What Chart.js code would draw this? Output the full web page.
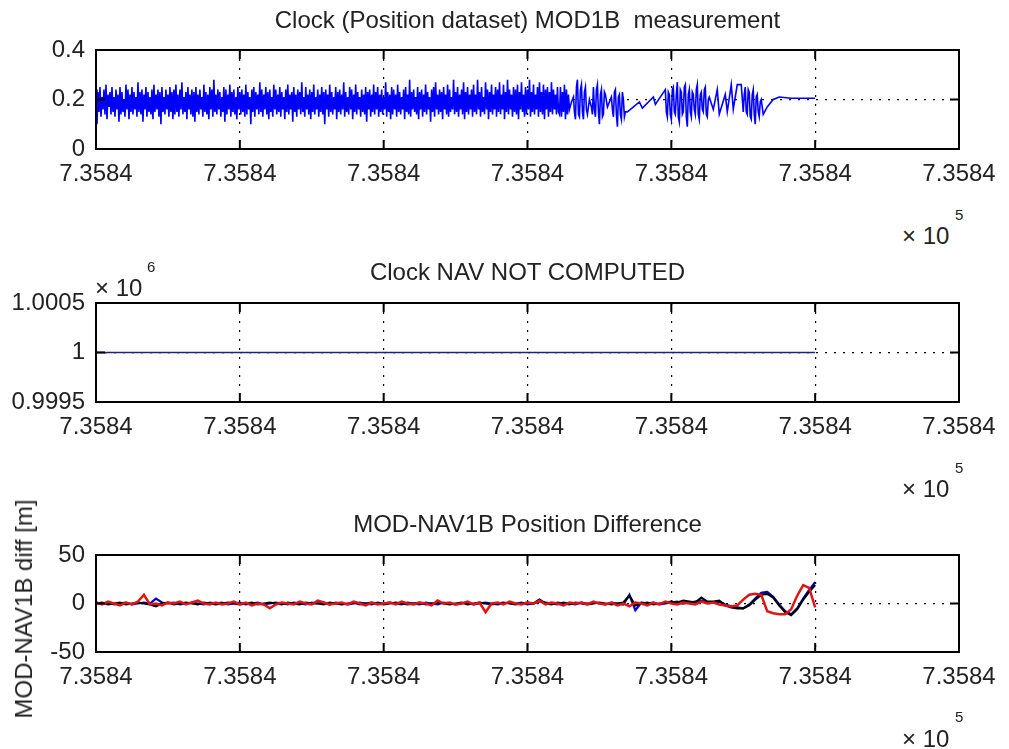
<!DOCTYPE html>
<html>
<head>
<meta charset="utf-8">
<script src="https://cdn.jsdelivr.net/npm/chart.js@4.4.1/dist/chart.umd.min.js"></script>
<style>
  html, body { margin: 0; padding: 0; background: #fff; }
  #fig { position: relative; width: 1009px; height: 749px; overflow: hidden;
         font-family: 'Liberation Sans', Arial, sans-serif; color: #222; }
  #fig canvas { position: absolute; left: 0; }
  .t { position: absolute; font-size: 24px; line-height: 24px; white-space: pre; }
  .sup { position: absolute; font-size: 15px; line-height: 15px; white-space: pre; }
  .ylab { position: absolute; left: 24px; top: 609px; font-size: 24px; line-height: 24px;
          white-space: nowrap; transform: translate(-50%, -50%) rotate(-90deg); }
</style>
</head>
<body>
<div id="fig">
  <canvas id="c1" width="1009" height="200" style="top:0px"></canvas>
  <canvas id="c2" width="1009" height="200" style="top:250px"></canvas>
  <canvas id="c3" width="1009" height="249" style="top:500px"></canvas>

  <div class="t" style="left:96px;width:863px;text-align:center;top:8px">Clock (Position dataset) MOD1B  measurement</div>
  <div class="t" style="left:902px;top:224px">× 10</div>
  <div class="sup" style="left:955px;top:207px">5</div>

  <div class="t" style="left:96px;width:863px;text-align:center;top:260px">Clock NAV NOT COMPUTED</div>
  <div class="t" style="left:95px;top:276px">× 10</div>
  <div class="sup" style="left:147px;top:259px">6</div>
  <div class="t" style="left:902px;top:477px">× 10</div>
  <div class="sup" style="left:955px;top:460px">5</div>

  <div class="t" style="left:96px;width:863px;text-align:center;top:512px">MOD-NAV1B Position Difference</div>
  <div class="ylab">MOD-NAV1B diff [m]</div>
  <div class="t" style="left:902px;top:727px">× 10</div>
  <div class="sup" style="left:955px;top:709px">5</div>
</div>

<script>
// Time base: datenum of the first epoch (days); sample times below are minutes after it.
const T0 = 735840;
const T_MAX = 4320;          // x range shown: 3 days
const T_STEP_TICK = 720;     // tick every half day

// ---- Clock (Position dataset) MOD1B measurement ----
const CLK_STEP = 5; // minutes between samples in the continuous part
const clkDense = [
  .24,.10,.23,.15,.25,.13,.21,.16,.24,.14,.26,.12,.22,.17,.23,.14,.25,.15,.21,.13,
  .24,.16,.22,.11,.25,.14,.23,.15,.20,.13,.26,.16,.24,.12,.22,.15,.25,.14,.23,.16,
  .21,.13,.27,.15,.23,.14,.24,.11,.22,.16,.25,.13,.23,.15,.21,.14,.24,.12,.26,.15,
  .22,.16,.24,.13,.23,.10,.25,.15,.21,.14,.24,.16,.22,.13,.25,.15,.23,.12,.24,.14,
  .26,.15,.22,.13,.24,.16,.27,.14,.21,.15,.23,.12,.25,.16,.22,.14,.24,.13,.23,.11,
  .25,.15,.22,.14,.24,.16,.21,.13,.26,.15,.23,.14,.22,.12,.25,.16,.24,.13,.28,.15,
  .22,.14,.24,.16,.23,.13,.21,.15,.25,.11,.24,.14,.22,.16,.26,.13,.23,.15,.24,.14,
  .21,.12,.25,.16,.23,.14,.24,.15,.22,.13,.26,.14,.23,.16,.21,.10,.24,.15,.25,.13,
  .23,.16,.22,.14,.27,.15,.24,.13,.22,.16,.25,.14,.23,.12,.24,.15,.21,.13,.26,.16,
  .24,.14,.22,.15,.25,.13,.23,.16,.21,.12,.24,.15,.26,.14,.22,.16,.23,.11,.25,.15,
  .22,.13,.24,.16,.23,.14,.27,.15,.21,.13,.25,.16,.22,.14,.24,.12,.23,.15,.26,.14,
  .21,.16,.24,.13,.22,.15,.25,.14,.23,.10,.24,.16,.22,.13,.26,.15,.23,.14,.21,.16,
  .25,.12,.23,.15,.24,.14,.22,.16,.27,.13,.23,.15,.21,.14,.25,.16,.24,.12,.22,.15,
  .26,.14,.23,.16,.21,.13,.24,.15,.22,.14,.25,.11,.23,.16,.24,.13,.22,.15,.26,.14,
  .23,.16,.25,.13,.22,.15,.24,.14,.21,.16,.27,.13,.23,.15,.22,.12,.25,.14,.24,.16,
  .22,.13,.26,.15,.23,.14,.21,.16,.24,.12,.25,.15,.22,.14,.28,.13,.23,.16,.24,.15,
  .21,.14,.25,.12,.23,.16,.24,.13,.22,.15,.26,.14,.23,.16,.21,.11,.24,.15,.25,.13,
  .27,.16,.22,.14,.24,.15,.23,.12,.25,.16,.22,.14,.26,.13,.24,.15,.21,.16,.28,.14,
  .23,.15,.25,.13,.22,.16,.24,.14,.27,.12,.23,.15,.25,.14,.22,.16,.24,.13,.26,.15,
  .22,.14,.28,.16,.23,.13,.25,.15,.21,.14,.27,.16,.24,.12,.23,.15,.26,.14,.22,.16,
  .25,.13,.24,.15,.27,.14,.22,.16,.26,.12,.23,.15,.28,.14,.24,.16,.22,.13,.25,.15,
  .24,.14,.26,.12,.23,.16,.27,.15,.22,.13,.25,.14,.24,.16,.28,.13,.23,.15,.26,.14,
  .22,.16,.25,.13,.27,.15,.23,.14,.26,.12,.24,.16,.25,.13,.23,.15,.27,.14,.24,.16,
  .22,.14,.25,.15
];
// After the continuous stretch the record becomes patchy: [minute, value]
const clkTail = [
  [2320,.14],[2325,.25],[2330,.13],[2335,.23],[2340,.15],[2345,.26],[2350,.12],[2355,.24],
  [2360,.14],[2365,.22],[2370,.16],[2380,.19],[2390,.21],
  [2395,.15],[2400,.12],[2405,.25],[2410,.28],[2415,.14],[2420,.13],[2425,.24],[2430,.26],
  [2435,.15],[2440,.12],[2445,.23],[2450,.25],[2455,.16],[2460,.14],[2470,.20],[2480,.17],
  [2485,.14],[2490,.25],[2495,.16],[2500,.13],[2505,.24],[2510,.26],[2515,.15],[2520,.10],
  [2525,.22],[2530,.24],[2535,.13],[2540,.14],[2545,.23],[2550,.22],[2560,.17],[2580,.21],
  [2585,.16],[2590,.13],[2595,.23],[2600,.24],[2605,.14],[2610,.09],[2615,.21],[2620,.22],
  [2625,.14],[2630,.12],[2635,.23],[2640,.20],[2645,.13],[2650,.15],
  [2660,.15],[2720,.19],[2735,.165],[2790,.21],[2800,.18],[2850,.24],
  [2855,.15],[2860,.13],[2865,.23],[2870,.22],[2875,.14],[2880,.12],[2885,.24],[2890,.25],
  [2895,.15],[2900,.14],[2905,.22],[2910,.27],[2915,.13],[2920,.11],[2925,.24],[2930,.23],
  [2935,.14],[2940,.15],[2945,.25],[2950,.26],[2955,.13],[2960,.09],[2965,.22],[2970,.24],
  [2975,.15],[2980,.13],[2985,.23],[2990,.22],[2995,.16],[3000,.14],[3005,.24],[3010,.26],
  [3015,.14],[3020,.12],[3025,.22],[3030,.23],[3035,.16],[3040,.15],[3045,.24],[3050,.25],
  [3055,.14],[3060,.13],[3065,.20],[3070,.21],
  [3090,.16],[3110,.24],[3120,.14],[3150,.22],[3160,.15],[3180,.26],[3190,.16],[3210,.26],
  [3230,.26],[3240,.15],
  [3245,.22],[3250,.25],[3255,.15],[3260,.14],[3265,.24],[3270,.23],[3275,.13],[3280,.12],
  [3285,.22],[3290,.24],[3295,.14],[3300,.10],[3305,.21],[3310,.22],[3315,.15],[3320,.13],
  [3325,.19],[3330,.20],
  [3340,.14],[3360,.17],[3390,.20],[3420,.21],[3480,.205],[3540,.205],[3600,.205]
];

// ---- Clock NAV (not computed: constant fill value) ----
const navT = [0, 1200, 2400, 3600];
const navV = [1000000, 1000000, 1000000, 1000000];

// ---- MOD-NAV1B position difference [m] ----
const POS_STEP = 30; // minutes between samples
const diffRed = [
  1,-1,2,0,-2,1,-1,2,9,-1,
  0,-2,1,0,2,-1,1,3,0,-1,
  1,-1,0,2,-1,1,-2,0,-1,-5,
  -1,1,0,-1,2,0,-1,3,1,-1,
  0,1,-1,2,0,-2,1,-1,0,1,
  -1,2,0,-1,1,0,-2,3,0,1,
  -1,0,2,-1,1,-9,0,1,-1,2,
  0,-1,1,0,3,-1,1,0,-2,1,
  0,1,-1,2,0,-1,1,-2,0,-3,
  1,0,-2,1,-1,2,0,-1,1,0,
  -1,2,0,
  1,-1,-2,-3,-2,4,9,10,9,-8,-10,-11,-11,-6,8,19,16,-4
];
const diffBlack = [
  0,1,-1,0,1,-1,0,1,0,-1,
  -3,0,1,-1,0,1,0,-1,1,0,
  -1,0,1,0,-1,0,1,-1,0,1,
  0,-1,1,0,-1,1,0,0,-1,1,
  0,-1,0,1,-1,0,1,0,-1,0,
  1,0,-1,0,1,-1,0,1,0,-1,
  0,1,-1,0,1,0,-1,0,1,0,
  -1,0,1,0,4,0,-1,1,0,-1,
  1,0,-1,0,1,0,-1,0,1,8,
  -2,0,1,-1,0,1,2,1,3,2,
  1,6,2,
  2,3,-2,-4,-5,-5,-2,4,9,10,6,-2,-9,-12,-6,4,12,19
];
const diffBlue = [
  1,0,1,-1,0,1,-1,0,1,0,
  5,1,0,1,-1,0,1,0,-1,1,
  0,1,-1,0,1,-1,0,1,-1,0,
  1,0,-1,1,0,-1,1,0,1,-1,
  1,0,-1,0,1,0,-1,1,0,1,
  0,-1,1,0,-1,1,0,-1,1,0,
  -1,0,1,-1,0,1,0,-1,0,1,
  0,1,-1,0,2,1,0,-1,1,0,
  -1,1,0,1,0,-1,1,0,-1,9,
  -7,1,0,1,-1,0,1,2,0,1,
  2,3,1,
  1,2,-1,-3,-4,-5,-1,5,11,12,7,-1,-8,-11,-5,5,14,22
];

// ---- helpers ----
const FONT = { family: "'Liberation Sans', Arial, sans-serif", size: 24 };
const TEXT = '#222';
const TICK_LEN = 9;

const toPts = (ts, vs) => vs.map((v, i) => ({ x: ts[i], y: v }));

const clkPts = clkDense.map((v, i) => ({ x: i * CLK_STEP, y: v }))
  .concat(clkTail.map(([t, v]) => ({ x: t, y: v })));
const posTimes = diffRed.map((_, i) => i * POS_STEP);

// Box around the plot area with inward tick marks on all four sides
const framePlugin = {
  id: 'frame',
  afterDraw(chart) {
    const { ctx, chartArea: a, scales: { x, y } } = chart;
    ctx.save();
    ctx.strokeStyle = '#000';
    ctx.lineWidth = 2;
    ctx.beginPath();
    x.ticks.forEach((t, i) => {
      const px = x.getPixelForTick(i);
      ctx.moveTo(px, a.bottom); ctx.lineTo(px, a.bottom - TICK_LEN);
      ctx.moveTo(px, a.top); ctx.lineTo(px, a.top + TICK_LEN);
    });
    y.ticks.forEach((t, i) => {
      const py = y.getPixelForTick(i);
      ctx.moveTo(a.left, py); ctx.lineTo(a.left + TICK_LEN, py);
      ctx.moveTo(a.right, py); ctx.lineTo(a.right - TICK_LEN, py);
    });
    ctx.stroke();
    ctx.strokeRect(a.left, a.top, a.right - a.left, a.bottom - a.top);
    ctx.restore();
  }
};

function makeChart(id, padTop, xHeight, yCfg, datasets) {
  return new Chart(document.getElementById(id), {
    type: 'line',
    data: { datasets },
    options: {
      responsive: false,
      animation: false,
      devicePixelRatio: 1,
      events: [],
      layout: { padding: { top: padTop, right: 50, left: 0, bottom: 0 } },
      elements: { point: { radius: 0 }, line: { tension: 0 } },
      plugins: { legend: { display: false }, tooltip: { enabled: false } },
      scales: {
        x: {
          type: 'linear', min: 0, max: T_MAX,
          afterFit: s => { s.height = xHeight; },
          grid: { color: '#000', lineWidth: 1.2, drawTicks: false },
          border: { display: false, dash: [2, 7] },
          ticks: {
            stepSize: T_STEP_TICK, autoSkip: false, maxRotation: 0, padding: 11,
            font: FONT, color: TEXT,
            callback: v => ((T0 + v / 1440) / 1e5).toFixed(4)
          }
        },
        y: {
          type: 'linear', min: yCfg.min, max: yCfg.max,
          afterFit: s => { s.width = 96; },
          grid: { color: '#000', lineWidth: 1.2, drawTicks: false },
          border: { display: false, dash: [2, 7] },
          ticks: {
            stepSize: yCfg.step, autoSkip: false, padding: 11,
            font: FONT, color: TEXT,
            callback: yCfg.fmt
          }
        }
      }
    },
    plugins: [framePlugin]
  });
}

makeChart('c1', 50, 51,
  { min: 0, max: 0.4, step: 0.2, fmt: v => String(+v.toFixed(2)) },
  [{ data: clkPts, borderColor: '#0000ff', borderWidth: 1.6 }]);

makeChart('c2', 53, 48,
  { min: 999500, max: 1000500, step: 500, fmt: v => String(+(v / 1e6).toFixed(4)) },
  [{ data: toPts(navT, navV), borderColor: '#202080', borderWidth: 1.5 }]);

makeChart('c3', 55, 97,
  { min: -50, max: 50, step: 50, fmt: v => String(v) },
  [
    { data: toPts(posTimes, diffRed), borderColor: '#e01414', borderWidth: 2.5 },
    { data: toPts(posTimes, diffBlack), borderColor: '#000000', borderWidth: 2.2 },
    { data: toPts(posTimes, diffBlue), borderColor: '#0000c8', borderWidth: 2.2 }
  ]);
</script>
</body>
</html>
